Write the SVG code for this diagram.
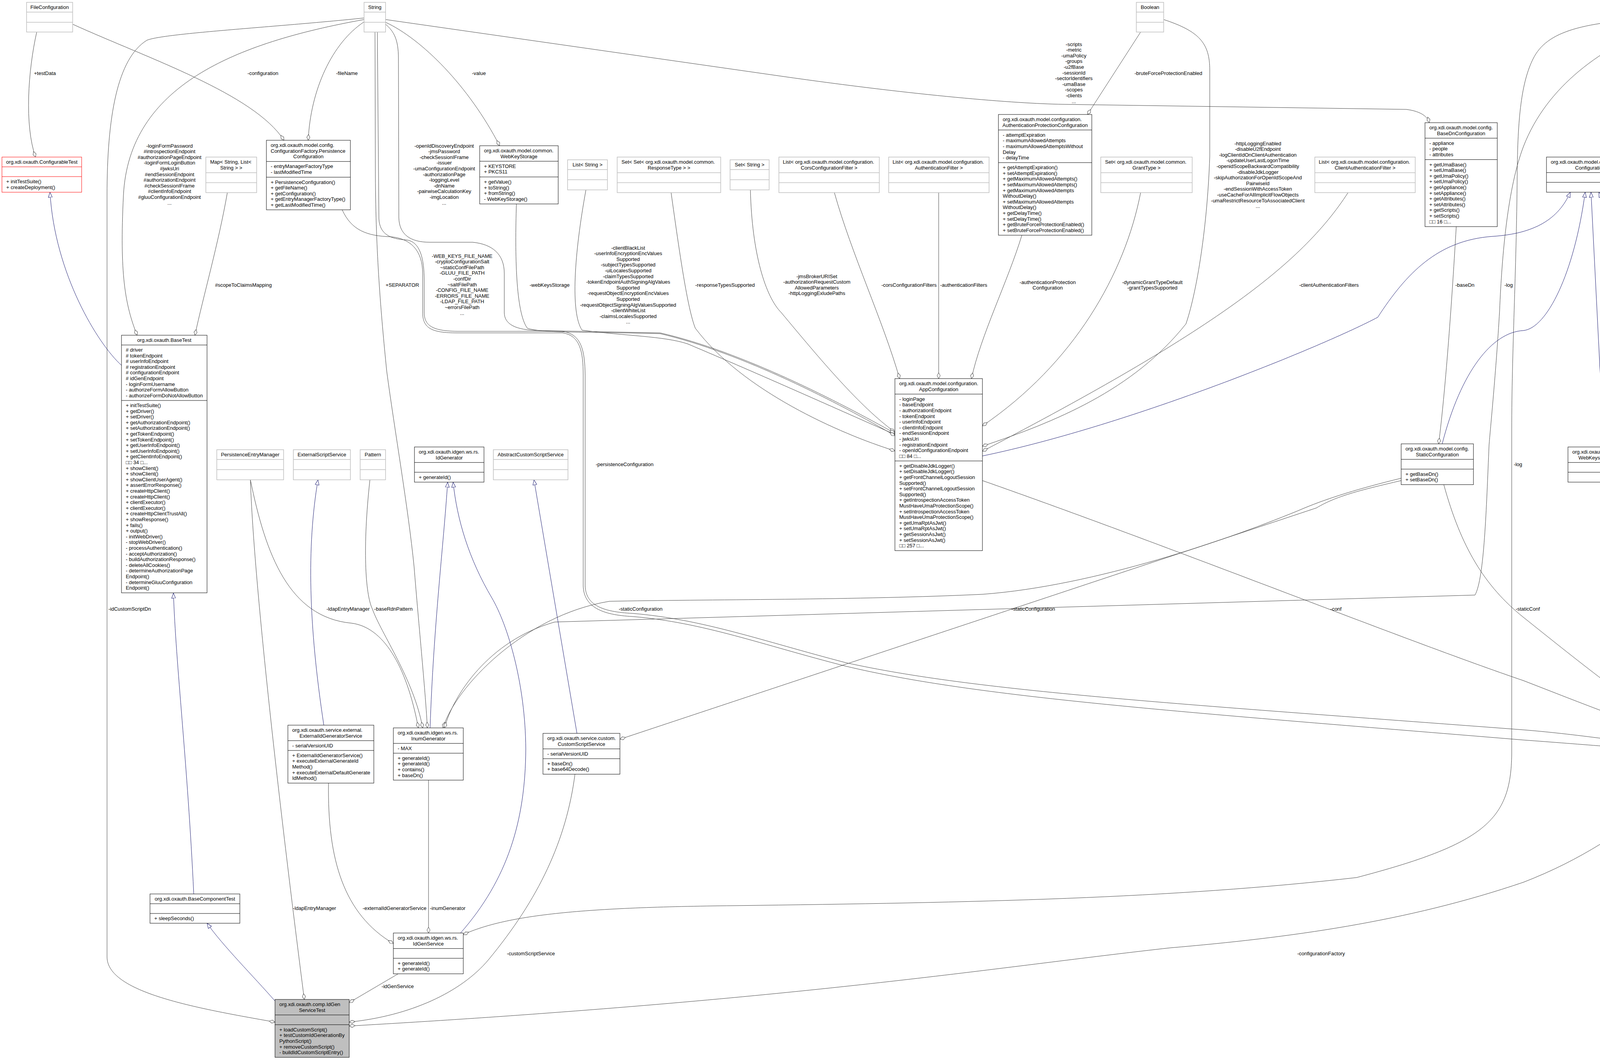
<svg xmlns="http://www.w3.org/2000/svg" width="5985" height="2713" viewBox="0 0 5985 2713">
<defs>
<style>
text{font-family:"Liberation Sans",Arial,Helvetica,"DejaVu Sans",sans-serif;font-size:13px;fill:#000}
.m{text-anchor:middle}
.b{fill:#fff;stroke:#000;stroke-width:1}
.x{fill:#fff;stroke:#bfbfbf;stroke-width:1.5}
.r{fill:#fff;stroke:#f00;stroke-width:1}
.g{fill:#bfbfbf;stroke:#000;stroke-width:1}
.sb{stroke:#000;stroke-width:1;fill:none}
.sx{stroke:#bfbfbf;stroke-width:1.5;fill:none}
.sr{stroke:#f00;stroke-width:1;fill:none}
.e{fill:none;stroke:#404040;stroke-width:1;marker-end:url(#dia)}
.i{fill:none;stroke:#191970;stroke-width:1;marker-end:url(#tri)}
</style>
<marker id="dia" markerUnits="userSpaceOnUse" markerWidth="16" markerHeight="10" viewBox="0 0 16 10" refX="15.5" refY="5" orient="auto"><path d="M0.5,5 L8,1 L15.5,5 L8,9 Z" fill="#fff" stroke="#404040"/></marker>
<marker id="tri" markerUnits="userSpaceOnUse" markerWidth="14" markerHeight="12" viewBox="0 0 14 12" refX="13.5" refY="6" orient="auto"><path d="M0.5,1 L13.5,6 L0.5,11 Z" fill="#fff" stroke="#191970"/></marker>
</defs>
<rect x="0" y="0" width="5985" height="2713" fill="#fff"/>
<g id="edges">
<g id="e_testData"><path class="e" d="M94,82 C72,180 62,320 91,402"/><text class="m" x="115" y="191.5">+testData</text></g>
<g id="e_configuration"><path class="e" d="M186,62 C380,150 650,240 727,359"/><text class="m" x="673" y="191.5">-configuration</text></g>
<g id="e_fileName"><path class="e" d="M932,56 C850,110 795,230 789,359"/><text class="m" x="888" y="191.5">-fileName</text></g>
<g id="e_basetest_strings"><path class="e" d="M932,50 C600,110 330,220 316,500 C306,700 320,780 351,858"/><text class="m" x="434" y="377.5"><tspan x="434">-loginFormPassword</tspan><tspan x="434" dy="14.6">#introspectionEndpoint</tspan><tspan x="434" dy="14.6">#authorizationPageEndpoint</tspan><tspan x="434" dy="14.6">-loginFormLoginButton</tspan><tspan x="434" dy="14.6">#jwksUri</tspan><tspan x="434" dy="14.6">#endSessionEndpoint</tspan><tspan x="434" dy="14.6">#authorizationEndpoint</tspan><tspan x="434" dy="14.6">#checkSessionIFrame</tspan><tspan x="434" dy="14.6">#clientInfoEndpoint</tspan><tspan x="434" dy="14.6">#gluuConfigurationEndpoint</tspan><tspan x="434" dy="14.6">...</tspan></text></g>
<g id="e_idCustomScriptDn"><path class="e" d="M932,46 C700,70 420,85 376,103 C300,150 274,300 274,500 L274,2449 C274,2540 500,2580 704,2616"/><text class="m" x="332" y="1562.5">-idCustomScriptDn</text></g>
<g id="e_scopeToClaimsMapping"><path class="e" d="M582,493 C560,620 520,760 499,858"/><text class="m" x="623" y="733.5">#scopeToClaimsMapping</text></g>
<g id="e_value"><path class="e" d="M987,57 C1080,100 1200,220 1279,373"/><text class="m" x="1226" y="191.5">-value</text></g>
<g id="e_basedn_strings"><path class="e" d="M987,50 L2000,195 C2350,245 2600,265 2720,267 L3600,280 C3640,285 3655,300 3659,314"/><text class="m" x="2749" y="117.5"><tspan x="2749">-scripts</tspan><tspan x="2749" dy="14.6">-metric</tspan><tspan x="2749" dy="14.6">-umaPolicy</tspan><tspan x="2749" dy="14.6">-groups</tspan><tspan x="2749" dy="14.6">-u2fBase</tspan><tspan x="2749" dy="14.6">-sessionId</tspan><tspan x="2749" dy="14.6">-sectorIdentifiers</tspan><tspan x="2749" dy="14.6">-umaBase</tspan><tspan x="2749" dy="14.6">-scopes</tspan><tspan x="2749" dy="14.6">-clients</tspan><tspan x="2749" dy="14.6">...</tspan></text></g>
<g id="e_bruteForce"><path class="e" d="M2920,82 L2784,293"/><text class="m" x="2991" y="191.5">-bruteForceProtectionEnabled</text></g>
<g id="e_boolean_appconf"><path class="e" d="M2979,50 C3070,80 3097,110 3097,180 L3097,400 C3090,600 3060,760 3036,829 C2900,1000 2700,1080 2515,1142"/><text class="m" x="3220" y="371.5"><tspan x="3220">-httpLoggingEnabled</tspan><tspan x="3220" dy="14.6">-disableU2fEndpoint</tspan><tspan x="3220" dy="14.6">-logClientIdOnClientAuthentication</tspan><tspan x="3220" dy="14.6">-updateUserLastLogonTime</tspan><tspan x="3220" dy="14.6">-openidScopeBackwardCompatibility</tspan><tspan x="3220" dy="14.6">-disableJdkLogger</tspan><tspan x="3220" dy="14.6">-skipAuthorizationForOpenIdScopeAnd</tspan><tspan x="3220" dy="14.6">PairwiseId</tspan><tspan x="3220" dy="14.6">-endSessionWithAccessToken</tspan><tspan x="3220" dy="14.6">-useCacheForAllImplicitFlowObjects</tspan><tspan x="3220" dy="14.6">-umaRestrictResourceToAssociatedClient</tspan><tspan x="3220" dy="14.6">...</tspan></text></g>
<g id="e_authProt"><path class="e" d="M2616,602 C2580,720 2510,860 2487,969"/><text class="m" x="2682" y="726.5"><tspan x="2682">-authenticationProtection</tspan><tspan x="2682" dy="14.6">Configuration</tspan></text></g>
<g id="e_grantTypes"><path class="e" d="M2920,493 C2880,700 2750,930 2515,1090"/><text class="m" x="2950" y="726.5"><tspan x="2950">-dynamicGrantTypeDefault</tspan><tspan x="2950" dy="14.6">-grantTypesSupported</tspan></text></g>
<g id="e_clientAuthFilters"><path class="e" d="M3451,493 C3330,680 3100,850 2515,1155"/><text class="m" x="3402" y="733.5">-clientAuthenticationFilters</text></g>
<g id="e_authFilters"><path class="e" d="M2403,493 L2403,969"/><text class="m" x="2467" y="733.5">-authenticationFilters</text></g>
<g id="e_corsFilters"><path class="e" d="M2136,493 C2180,650 2260,820 2303,969"/><text class="m" x="2327" y="733.5">-corsConfigurationFilters</text></g>
<g id="e_jms"><path class="e" d="M1921,486 C1925,650 1960,760 2000,800 C2100,920 2200,1040 2291,1106"/><text class="m" x="2091" y="711.5"><tspan x="2091">-jmsBrokerURISet</tspan><tspan x="2091" dy="14.6">-authorizationRequestCustom</tspan><tspan x="2091" dy="14.6">AllowedParameters</tspan><tspan x="2091" dy="14.6">-httpLoggingExludePaths</tspan></text></g>
<g id="e_responseTypes"><path class="e" d="M1718,493 C1740,650 1760,790 1780,840 C1900,1000 2150,1110 2291,1154"/><text class="m" x="1856" y="733.5">-responseTypesSupported</text></g>
<g id="e_liststring_appconf"><path class="e" d="M1500,486 C1470,650 1460,800 1490,845 C1600,860 1700,860 1760,880 C1950,960 2150,1050 2291,1112"/><text class="m" x="1608" y="638.5"><tspan x="1608">-clientBlackList</tspan><tspan x="1608" dy="14.6">-userInfoEncryptionEncValues</tspan><tspan x="1608" dy="14.6">Supported</tspan><tspan x="1608" dy="14.6">-subjectTypesSupported</tspan><tspan x="1608" dy="14.6">-uiLocalesSupported</tspan><tspan x="1608" dy="14.6">-claimTypesSupported</tspan><tspan x="1608" dy="14.6">-tokenEndpointAuthSigningAlgValues</tspan><tspan x="1608" dy="14.6">Supported</tspan><tspan x="1608" dy="14.6">-requestObjectEncryptionEncValues</tspan><tspan x="1608" dy="14.6">Supported</tspan><tspan x="1608" dy="14.6">-requestObjectSigningAlgValuesSupported</tspan><tspan x="1608" dy="14.6">-clientWhiteList</tspan><tspan x="1608" dy="14.6">-claimsLocalesSupported</tspan><tspan x="1608" dy="14.6">...</tspan></text></g>
<g id="e_string_appconf"><path class="e" d="M987,62 C1008,80 1020,100 1020,150 L1021,557 C1022,600 1050,620 1100,620 L1210,620 C1260,625 1291,650 1291,700 L1291,800 C1291,830 1320,845 1380,846 L1690,852 C1900,900 2150,1030 2291,1109"/><text class="m" x="1137" y="377.5"><tspan x="1137">-openIdDiscoveryEndpoint</tspan><tspan x="1137" dy="14.6">-jmsPassword</tspan><tspan x="1137" dy="14.6">-checkSessionIFrame</tspan><tspan x="1137" dy="14.6">-issuer</tspan><tspan x="1137" dy="14.6">-umaConfigurationEndpoint</tspan><tspan x="1137" dy="14.6">-authorizationPage</tspan><tspan x="1137" dy="14.6">-loggingLevel</tspan><tspan x="1137" dy="14.6">-dnName</tspan><tspan x="1137" dy="14.6">-pairwiseCalculationKey</tspan><tspan x="1137" dy="14.6">-imgLocation</tspan><tspan x="1137" dy="14.6">...</tspan></text></g>
<g id="e_webKeysStorage"><path class="e" d="M1322,522 C1318,650 1320,800 1350,840 C1380,850 1450,850 1550,851 L1690,854 C1900,903 2150,1033 2291,1115"/><text class="m" x="1407" y="733.5">-webKeysStorage</text></g>
<g id="e_string_cf"><path class="e" d="M966,82 L970,560 C972,600 1000,612 1040,614 C1075,618 1086,660 1086,720 L1086,800 C1086,835 1110,847 1170,848 L1440,848 C1490,855 1497,900 1498,960 L1498,1500 C1500,1548 1540,1566 1620,1570 C1800,1585 1950,1640 2165,1696 C2500,1770 3000,1800 3900,1868 C4050,1880 4200,1905 4285,1913"/><text class="m" x="1183" y="659.5"><tspan x="1183">-WEB_KEYS_FILE_NAME</tspan><tspan x="1183" dy="14.6">-cryptoConfigurationSalt</tspan><tspan x="1183" dy="14.6">~staticConfFilePath</tspan><tspan x="1183" dy="14.6">-GLUU_FILE_PATH</tspan><tspan x="1183" dy="14.6">-confDir</tspan><tspan x="1183" dy="14.6">~saltFilePath</tspan><tspan x="1183" dy="14.6">-CONFIG_FILE_NAME</tspan><tspan x="1183" dy="14.6">-ERRORS_FILE_NAME</tspan><tspan x="1183" dy="14.6">-LDAP_FILE_PATH</tspan><tspan x="1183" dy="14.6">~errorsFilePath</tspan><tspan x="1183" dy="14.6">...</tspan></text></g>
<g id="e_persistenceConfiguration"><path class="e" d="M876,537 C900,590 940,604 1000,606 C1050,610 1082,640 1082,700 L1082,800 C1082,840 1105,852 1170,852 L1440,852 C1485,858 1493,900 1493,960 L1493,1500 C1495,1553 1540,1574 1620,1578 C1800,1593 1950,1650 2165,1705 C2500,1785 3000,1820 3900,1894 C4050,1905 4200,1918 4285,1922"/><text class="m" x="1599" y="1192.5">-persistenceConfiguration</text></g>
<g id="e_conf"><path class="e" d="M2515,1230 C3000,1400 3600,1640 3900,1742 C4050,1800 4200,1860 4285,1883"/><text class="m" x="3420" y="1562.5">-conf</text></g>
<g id="e_staticConf"><path class="e" d="M3696,1240 C3740,1400 3800,1500 3900,1580 C4050,1700 4200,1820 4285,1862"/><text class="m" x="3911" y="1562.5">-staticConf</text></g>
<g id="e_static_css"><path class="e" d="M3587,1230 C3480,1255 3420,1270 3370,1300 L1587,1892"/><text class="m" x="2645" y="1562.5">-staticConfiguration</text></g>
<g id="e_static_inum"><path class="e" d="M3587,1224 C3480,1250 3400,1275 3340,1300 C3150,1380 2800,1500 2516,1521 C2200,1536 1800,1534 1560,1539 C1340,1575 1165,1760 1134,1863"/><text class="m" x="1640" y="1562.5">-staticConfiguration</text></g>
<g id="e_log_inum"><path class="e" d="M4262,58 C4100,120 3960,220 3900,375 C3860,480 3845,650 3839,795 C3830,950 3815,1100 3812,1139 C3805,1300 3800,1480 3776,1523 L1420,1592 C1250,1640 1160,1780 1138,1863"/><text class="m" x="3862" y="733.5">-log</text></g>
<g id="e_log_idgen"><path class="e" d="M4262,46 C4050,55 3960,80 3925,150 C3895,210 3885,300 3884,450 C3882,700 3870,900 3870,1100 L3870,1930 C3868,2100 3800,2160 3473,2246 C3000,2300 2500,2310 1878,2318 C1500,2322 1300,2340 1186,2392"/><text class="m" x="3886" y="1192.5">-log</text></g>
<g id="e_LOG"><path class="e" d="M4292,82 L4292,351"/><text class="m" x="4312" y="190.5">-LOG</text></g>
<g id="e_log_cf"><path class="e" d="M4323,70 C4400,200 4412,268 4410,400 C4405,625 4350,700 4299,759 C4250,850 4232,1000 4232,1071 L4243,1400 C4250,1500 4270,1560 4290,1599"/><text class="m" x="4396" y="733.5">-log</text></g>
<g id="e_log_erf"><path class="e" d="M4323,54 C4500,130 4600,250 4671,402 C4675,600 4660,750 4631,777 C4560,830 4480,930 4459,973 C4445,1000 4440,1030 4439,1056"/><text class="m" x="4688" y="450.5">-log</text></g>
<g id="e_messages"><path class="e" d="M4518,565 C4500,800 4450,950 4429,1056"/><text class="m" x="4538" y="733.5">-messages</text></g>
<g id="e_baseDn"><path class="e" d="M3728,580 C3715,800 3700,1000 3683,1136"/><text class="m" x="3750" y="733.5">-baseDn</text></g>
<g id="e_jwks"><path class="e" d="M4113,1234 C4120,1500 4200,1680 4285,1757"/><text class="m" x="4204" y="1562.5">-jwks</text></g>
<g id="e_errorResponseFactory"><path class="e" d="M4400,1321 L4400,1599"/><text class="m" x="4470" y="1562.5">-errorResponseFactory</text></g>
<g id="e_timerEvent"><path class="e" d="M4621,1228 C4605,1380 4570,1500 4545,1560 C4530,1600 4520,1625 4515,1648"/><text class="m" x="4585" y="1562.5">-timerEvent</text></g>
<g id="e_configurationUpdateEvent"><path class="e" d="M4849,1235 C4790,1430 4720,1500 4675,1560 C4600,1660 4550,1720 4515,1783"/><text class="m" x="4761" y="1562.5">-configurationUpdateEvent</text></g>
<g id="e_pemfInstance"><path class="e" d="M5099,1235 C5085,1380 5040,1480 4973,1557 C4900,1640 4750,1760 4515,1876"/><text class="m" x="5052" y="1556.5"><tspan x="5052">-persistenceEntryManager</tspan><tspan x="5052" dy="14.6">FactoryInstance</tspan></text></g>
<g id="e_configurationInstance"><path class="e" d="M5357,1235 C5330,1380 5250,1470 5163,1557 C5080,1640 4900,1780 4515,1896"/><text class="m" x="5239" y="1562.5">-configurationInstance</text></g>
<g id="e_pemInstance"><path class="e" d="M5616,1235 C5605,1380 5540,1490 5470,1557 C5380,1640 5200,1780 4515,1904"/><text class="m" x="5548" y="1556.5"><tspan x="5548">-persistenceEntryManager</tspan><tspan x="5548" dy="14.6">Instance</tspan></text></g>
<g id="e_event"><path class="e" d="M5788,1228 C5788,1400 5760,1500 5700,1540 C5640,1575 5500,1610 5258,1691 C5000,1780 4700,1870 4515,1911"/><text class="m" x="5717" y="1562.5">-event</text></g>
<g id="e_isActive"><path class="e" d="M5924,1228 C5922,1400 5880,1470 5826,1512 C5750,1570 5600,1640 5258,1758 C5000,1840 4700,1895 4515,1918"/><text class="m" x="5854" y="1562.5">-isActive</text></g>
<g id="e_ldap_test"><path class="e" d="M641,1228 C650,1500 720,2100 779,2558"/><text class="m" x="805" y="2328.5">-ldapEntryManager</text></g>
<g id="e_ldap_inum"><path class="e" d="M641,1228 C680,1420 740,1580 900,1595 C980,1605 1040,1700 1071,1863"/><text class="m" x="891" y="1562.5">-ldapEntryManager</text></g>
<g id="e_baseRdnPattern"><path class="e" d="M947,1228 C928,1400 935,1520 953,1558 C975,1620 1060,1740 1082,1863"/><text class="m" x="1007" y="1562.5">-baseRdnPattern</text></g>
<g id="e_separator"><path class="e" d="M960,82 L961,450 C962,650 975,800 990,950 C1010,1100 1045,1300 1060,1450 C1072,1600 1090,1780 1094,1863"/><text class="m" x="1030" y="733.5">+SEPARATOR</text></g>
<g id="e_inumGenerator"><path class="e" d="M1097,1997 L1097,2388"/><text class="m" x="1146" y="2328.5">-inumGenerator</text></g>
<g id="e_externalIdGen"><path class="e" d="M841,2004 C838,2200 880,2340 1007,2415"/><text class="m" x="1010" y="2328.5">-externalIdGeneratorService</text></g>
<g id="e_idGenService"><path class="e" d="M1020,2492 L894,2566"/><text class="m" x="1018" y="2528.5">-idGenService</text></g>
<g id="e_customScriptService"><path class="e" d="M1472,1981 C1450,2150 1380,2300 1250,2457 C1180,2540 1050,2600 894,2616"/><text class="m" x="1359" y="2444.5">-customScriptService</text></g>
<g id="e_configurationFactory"><path class="e" d="M4285,2030 C4150,2130 4050,2200 3900,2258 C3600,2360 3300,2400 2995,2426 C2600,2470 2200,2534 1400,2593 C1200,2608 1000,2620 894,2626"/><text class="m" x="3382" y="2444.5">-configurationFactory</text></g>
<path id="i_basetest_configurable" class="i" d="M311,935 C250,880 140,700 128,492"/>
<path id="i_basecomp_basetest" class="i" d="M496,2288 C480,1950 450,1700 444,1518"/>
<path id="i_test_basecomp" class="i" d="M704,2562 C650,2500 570,2420 530,2363"/>
<path id="i_extidgen_extscript" class="i" d="M829,1856 C790,1600 785,1400 814,1228"/>
<path id="i_inum_idgen" class="i" d="M1101,1863 C1110,1600 1135,1400 1146,1234"/>
<path id="i_idgenservice_idgen" class="i" d="M1179,2388 C1300,2250 1345,2100 1346,1917 C1345,1750 1300,1600 1259,1530 C1200,1430 1170,1330 1160,1234"/>
<path id="i_css_acss" class="i" d="M1477,1877 L1367,1228"/>
<path id="i_appconf_conf" class="i" d="M2515,1167 C2900,1087 3400,880 3527,812 C3600,700 3680,615 3821,605 C3930,598 3990,560 4020,492"/>
<path id="i_static_conf" class="i" d="M3692,1136 C3740,950 3820,850 3900,846 C3960,840 4030,700 4058,492"/>
<path id="i_webkeys_conf" class="i" d="M4106,1144 L4073,492"/>
<path id="i_erf_conf" class="i" d="M4339,1056 L4093,492"/>
<path id="i_webkeys_jwks" class="i" d="M4119,1144 L4266,543"/>
</g>
<g id="nodes">
<g id="n_FileConfiguration"><rect class="x" x="68" y="6" width="118" height="76"/><path class="sx" d="M68,31H186M68,57H186"/><text class="m" x="127" y="23">FileConfiguration</text></g>
<g id="n_String"><rect class="x" x="932" y="6" width="55" height="76"/><path class="sx" d="M932,31H987M932,57H987"/><text class="m" x="959.5" y="23">String</text></g>
<g id="n_Boolean"><rect class="x" x="2909" y="6" width="70" height="76"/><path class="sx" d="M2909,31H2979M2909,57H2979"/><text class="m" x="2944" y="23">Boolean</text></g>
<g id="n_Logger"><rect class="x" x="4262" y="6" width="61" height="76"/><path class="sx" d="M4262,31H4323M4262,57H4323"/><text class="m" x="4292.5" y="23">Logger</text></g>
<g id="n_ConfigurableTest"><rect class="r" x="5" y="402" width="204" height="90"/><path class="sr" d="M5,427H209M5,452H209"/><text class="m" x="107" y="419">org.xdi.oxauth.ConfigurableTest</text><text x="16" y="469"><tspan x="16">+ initTestSuite()</tspan><tspan x="16" dy="14.6">+ createDeployment()</tspan></text></g>
<g id="n_PersistenceConfiguration"><rect class="b" x="682" y="359" width="215" height="178"/><path class="sb" d="M682,413.3H897M682,453.5H897"/><text x="693" y="376"><tspan x="693">org.xdi.oxauth.model.config.</tspan><tspan x="693" dy="14.6">ConfigurationFactory.Persistence</tspan></text><text class="m" x="789.5" y="405.2">Configuration</text><text x="693" y="430.3"><tspan x="693">- entryManagerFactoryType</tspan><tspan x="693" dy="14.6">- lastModifiedTime</tspan></text><text x="693" y="470.5"><tspan x="693">+ PersistenceConfiguration()</tspan><tspan x="693" dy="14.6">+ getFileName()</tspan><tspan x="693" dy="14.6">+ getConfiguration()</tspan><tspan x="693" dy="14.6">+ getEntryManagerFactoryType()</tspan><tspan x="693" dy="14.6">+ getLastModifiedTime()</tspan></text></g>
<g id="n_MapStringList"><rect class="x" x="527" y="402" width="130" height="91"/><path class="sx" d="M527,442H657M527,467.5H657"/><text x="538" y="419">Map&lt; String, List&lt;</text><text class="m" x="592" y="433.6">String &gt; &gt;</text></g>
<g id="n_WebKeyStorage"><rect class="b" x="1228" y="373" width="201" height="149"/><path class="sb" d="M1228,412.7H1429M1228,452.9H1429"/><text x="1239" y="390">org.xdi.oxauth.model.common.</text><text class="m" x="1328.5" y="404.6">WebKeyStorage</text><text x="1239" y="429.7"><tspan x="1239">+ KEYSTORE</tspan><tspan x="1239" dy="14.6">+ PKCS11</tspan></text><text x="1239" y="469.9"><tspan x="1239">+ getValue()</tspan><tspan x="1239" dy="14.6">+ toString()</tspan><tspan x="1239" dy="14.6">+ fromString()</tspan><tspan x="1239" dy="14.6">- WebKeyStorage()</tspan></text></g>
<g id="n_ListString"><rect class="x" x="1453" y="409" width="102" height="77"/><path class="sx" d="M1453,434H1555M1453,460H1555"/><text class="m" x="1504" y="426">List&lt; String &gt;</text></g>
<g id="n_SetSetResponseType"><rect class="x" x="1580" y="402" width="265" height="91"/><path class="sx" d="M1580,442H1845M1580,467.5H1845"/><text x="1591" y="419">Set&lt; Set&lt; org.xdi.oxauth.model.common.</text><text class="m" x="1712.5" y="433.6">ResponseType &gt; &gt;</text></g>
<g id="n_SetString"><rect class="x" x="1869" y="409" width="100" height="77"/><path class="sx" d="M1869,434H1969M1869,460H1969"/><text class="m" x="1919" y="426">Set&lt; String &gt;</text></g>
<g id="n_ListCors"><rect class="x" x="1994" y="402" width="257" height="91"/><path class="sx" d="M1994,442H2251M1994,467.5H2251"/><text x="2004" y="419">List&lt; org.xdi.oxauth.model.configuration.</text><text class="m" x="2122.5" y="433.6">CorsConfigurationFilter &gt;</text></g>
<g id="n_ListAuthFilter"><rect class="x" x="2275" y="402" width="257" height="91"/><path class="sx" d="M2275,442H2532M2275,467.5H2532"/><text x="2285" y="419">List&lt; org.xdi.oxauth.model.configuration.</text><text class="m" x="2403.5" y="433.6">AuthenticationFilter &gt;</text></g>
<g id="n_AuthenticationProtectionConfiguration"><rect class="b" x="2556" y="293" width="239" height="309"/><path class="sb" d="M2556,332.7H2795M2556,416.2H2795"/><text x="2567" y="310">org.xdi.oxauth.model.configuration.</text><text class="m" x="2675.5" y="324.6">AuthenticationProtectionConfiguration</text><text x="2567" y="349.7"><tspan x="2567">- attemptExpiration</tspan><tspan x="2567" dy="14.6">- maximumAllowedAttempts</tspan><tspan x="2567" dy="14.6">- maximumAllowedAttemptsWithout</tspan><tspan x="2567" dy="14.6">Delay</tspan><tspan x="2567" dy="14.6">- delayTime</tspan></text><text x="2567" y="433.2"><tspan x="2567">+ getAttemptExpiration()</tspan><tspan x="2567" dy="14.6">+ setAttemptExpiration()</tspan><tspan x="2567" dy="14.6">+ getMaximumAllowedAttempts()</tspan><tspan x="2567" dy="14.6">+ setMaximumAllowedAttempts()</tspan><tspan x="2567" dy="14.6">+ getMaximumAllowedAttempts</tspan><tspan x="2567" dy="14.6">WithoutDelay()</tspan><tspan x="2567" dy="14.6">+ setMaximumAllowedAttempts</tspan><tspan x="2567" dy="14.6">WithoutDelay()</tspan><tspan x="2567" dy="14.6">+ getDelayTime()</tspan><tspan x="2567" dy="14.6">+ setDelayTime()</tspan><tspan x="2567" dy="14.6">+ getBruteForceProtectionEnabled()</tspan><tspan x="2567" dy="14.6">+ setBruteForceProtectionEnabled()</tspan></text></g>
<g id="n_SetGrantType"><rect class="x" x="2818" y="402" width="234" height="91"/><path class="sx" d="M2818,442H3052M2818,467.5H3052"/><text x="2829" y="419">Set&lt; org.xdi.oxauth.model.common.</text><text class="m" x="2935" y="433.6">GrantType &gt;</text></g>
<g id="n_ListClientAuthFilter"><rect class="x" x="3366" y="402" width="257" height="91"/><path class="sx" d="M3366,442H3623M3366,467.5H3623"/><text x="3376" y="419">List&lt; org.xdi.oxauth.model.configuration.</text><text class="m" x="3494.5" y="433.6">ClientAuthenticationFilter &gt;</text></g>
<g id="n_BaseDnConfiguration"><rect class="b" x="3648" y="314" width="185" height="266"/><path class="sb" d="M3648,353.7H3833M3648,408.5H3833"/><text x="3659" y="331">org.xdi.oxauth.model.config.</text><text class="m" x="3740.5" y="345.6">BaseDnConfiguration</text><text x="3659" y="370.7"><tspan x="3659">- appliance</tspan><tspan x="3659" dy="14.6">- people</tspan><tspan x="3659" dy="14.6">- attributes</tspan></text><text x="3659" y="425.5"><tspan x="3659">+ getUmaBase()</tspan><tspan x="3659" dy="14.6">+ setUmaBase()</tspan><tspan x="3659" dy="14.6">+ getUmaPolicy()</tspan><tspan x="3659" dy="14.6">+ setUmaPolicy()</tspan><tspan x="3659" dy="14.6">+ getAppliance()</tspan><tspan x="3659" dy="14.6">+ setAppliance()</tspan><tspan x="3659" dy="14.6">+ getAttributes()</tspan><tspan x="3659" dy="14.6">+ setAttributes()</tspan><tspan x="3659" dy="14.6">+ getScripts()</tspan><tspan x="3659" dy="14.6">+ setScripts()</tspan><tspan x="3659" dy="14.6">□□ 16 □...</tspan></text></g>
<g id="n_Configuration"><rect class="b" x="3959" y="402" width="224" height="90"/><path class="sb" d="M3959,441.7H4183M3959,466.7H4183"/><text x="3970" y="419">org.xdi.oxauth.model.configuration.</text><text class="m" x="4071" y="433.6">Configuration</text></g>
<g id="n_JSONWebKeySet"><rect class="r" x="4207" y="351" width="170" height="192"/><path class="sr" d="M4207,390.7H4377M4207,415.7H4377"/><text x="4218" y="368">org.xdi.oxauth.model.jwk.</text><text class="m" x="4292" y="382.6">JSONWebKeySet</text><text x="4218" y="432.7"><tspan x="4218">+ JSONWebKeySet()</tspan><tspan x="4218" dy="14.6">+ getKeys()</tspan><tspan x="4218" dy="14.6">+ setKeys()</tspan><tspan x="4218" dy="14.6">+ getKey()</tspan><tspan x="4218" dy="14.6">+ getKeys()</tspan><tspan x="4218" dy="14.6">+ toJSONObject()</tspan><tspan x="4218" dy="14.6">+ toString()</tspan><tspan x="4218" dy="14.6">+ fromJSONObject()</tspan></text></g>
<g id="n_ErrorMessages"><rect class="r" x="4453" y="329" width="177" height="236"/><path class="sr" d="M4453,368.7H4630M4453,393.7H4630"/><text x="4464" y="346">org.xdi.oxauth.model.error.</text><text class="m" x="4541.5" y="360.6">ErrorMessages</text><text x="4464" y="410.7"><tspan x="4464">+ getAuthorize()</tspan><tspan x="4464" dy="14.6">+ setAuthorize()</tspan><tspan x="4464" dy="14.6">+ getClientInfo()</tspan><tspan x="4464" dy="14.6">+ setClientInfo()</tspan><tspan x="4464" dy="14.6">+ getEndSession()</tspan><tspan x="4464" dy="14.6">+ setEndSession()</tspan><tspan x="4464" dy="14.6">+ getRegister()</tspan><tspan x="4464" dy="14.6">+ setRegister()</tspan><tspan x="4464" dy="14.6">+ getToken()</tspan><tspan x="4464" dy="14.6">+ setToken()</tspan><tspan x="4464" dy="14.6">□□ 6 □...</tspan></text></g>
<g id="n_BaseTest"><rect class="b" x="311" y="858" width="219" height="659.3"/><path class="sb" d="M311,883H530M311,1025H530"/><text class="m" x="420.5" y="875">org.xdi.oxauth.BaseTest</text><text x="322" y="900"><tspan x="322"># driver</tspan><tspan x="322" dy="14.6"># tokenEndpoint</tspan><tspan x="322" dy="14.6"># userInfoEndpoint</tspan><tspan x="322" dy="14.6"># registrationEndpoint</tspan><tspan x="322" dy="14.6"># configurationEndpoint</tspan><tspan x="322" dy="14.6"># idGenEndpoint</tspan><tspan x="322" dy="14.6">- loginFormUsername</tspan><tspan x="322" dy="14.6">- authorizeFormAllowButton</tspan><tspan x="322" dy="14.6">- authorizeFormDoNotAllowButton</tspan></text><text x="322" y="1042"><tspan x="322">+ initTestSuite()</tspan><tspan x="322" dy="14.6">+ getDriver()</tspan><tspan x="322" dy="14.6">+ setDriver()</tspan><tspan x="322" dy="14.6">+ getAuthorizationEndpoint()</tspan><tspan x="322" dy="14.6">+ setAuthorizationEndpoint()</tspan><tspan x="322" dy="14.6">+ getTokenEndpoint()</tspan><tspan x="322" dy="14.6">+ setTokenEndpoint()</tspan><tspan x="322" dy="14.6">+ getUserInfoEndpoint()</tspan><tspan x="322" dy="14.6">+ setUserInfoEndpoint()</tspan><tspan x="322" dy="14.6">+ getClientInfoEndpoint()</tspan><tspan x="322" dy="14.6">□□ 34 □...</tspan><tspan x="322" dy="14.6">+ showClient()</tspan><tspan x="322" dy="14.6">+ showClient()</tspan><tspan x="322" dy="14.6">+ showClientUserAgent()</tspan><tspan x="322" dy="14.6">+ assertErrorResponse()</tspan><tspan x="322" dy="14.6">+ createHttpClient()</tspan><tspan x="322" dy="14.6">+ createHttpClient()</tspan><tspan x="322" dy="14.6">+ clientExecutor()</tspan><tspan x="322" dy="14.6">+ clientExecutor()</tspan><tspan x="322" dy="14.6">+ createHttpClientTrustAll()</tspan><tspan x="322" dy="14.6">+ showResponse()</tspan><tspan x="322" dy="14.6">+ fails()</tspan><tspan x="322" dy="14.6">+ output()</tspan><tspan x="322" dy="14.6">- initWebDriver()</tspan><tspan x="322" dy="14.6">- stopWebDriver()</tspan><tspan x="322" dy="14.6">- processAuthentication()</tspan><tspan x="322" dy="14.6">- acceptAuthorization()</tspan><tspan x="322" dy="14.6">- buildAuthorizationResponse()</tspan><tspan x="322" dy="14.6">- deleteAllCookies()</tspan><tspan x="322" dy="14.6">- determineAuthorizationPage</tspan><tspan x="322" dy="14.6">Endpoint()</tspan><tspan x="322" dy="14.6">- determineGluuConfiguration</tspan><tspan x="322" dy="14.6">Endpoint()</tspan></text></g>
<g id="n_PersistenceEntryManager"><rect class="x" x="555" y="1151" width="171" height="77"/><path class="sx" d="M555,1176H726M555,1202H726"/><text class="m" x="640.5" y="1168">PersistenceEntryManager</text></g>
<g id="n_ExternalScriptService"><rect class="x" x="751" y="1151" width="146" height="77"/><path class="sx" d="M751,1176H897M751,1202H897"/><text class="m" x="824" y="1168">ExternalScriptService</text></g>
<g id="n_Pattern"><rect class="x" x="922" y="1151" width="65" height="77"/><path class="sx" d="M922,1176H987M922,1202H987"/><text class="m" x="954.5" y="1168">Pattern</text></g>
<g id="n_IdGenerator"><rect class="b" x="1061" y="1144" width="178" height="90"/><path class="sb" d="M1061,1183.7H1239M1061,1208.7H1239"/><text x="1072" y="1161">org.xdi.oxauth.idgen.ws.rs.</text><text class="m" x="1150" y="1175.6">IdGenerator</text><text x="1072" y="1225.7">+ generateId()</text></g>
<g id="n_AbstractCustomScriptService"><rect class="x" x="1263" y="1151" width="191" height="77"/><path class="sx" d="M1263,1176H1454M1263,1202H1454"/><text class="m" x="1358.5" y="1168">AbstractCustomScriptService</text></g>
<g id="n_AppConfiguration"><rect class="b" x="2291" y="969" width="224" height="440.3"/><path class="sb" d="M2291,1008.7H2515M2291,1179.8H2515"/><text x="2302" y="986">org.xdi.oxauth.model.configuration.</text><text class="m" x="2403" y="1000.6">AppConfiguration</text><text x="2302" y="1025.7"><tspan x="2302">- loginPage</tspan><tspan x="2302" dy="14.6">- baseEndpoint</tspan><tspan x="2302" dy="14.6">- authorizationEndpoint</tspan><tspan x="2302" dy="14.6">- tokenEndpoint</tspan><tspan x="2302" dy="14.6">- userInfoEndpoint</tspan><tspan x="2302" dy="14.6">- clientInfoEndpoint</tspan><tspan x="2302" dy="14.6">- endSessionEndpoint</tspan><tspan x="2302" dy="14.6">- jwksUri</tspan><tspan x="2302" dy="14.6">- registrationEndpoint</tspan><tspan x="2302" dy="14.6">- openIdConfigurationEndpoint</tspan><tspan x="2302" dy="14.6">□□ 84 □...</tspan></text><text x="2302" y="1196.8"><tspan x="2302">+ getDisableJdkLogger()</tspan><tspan x="2302" dy="14.6">+ setDisableJdkLogger()</tspan><tspan x="2302" dy="14.6">+ getFrontChannelLogoutSession</tspan><tspan x="2302" dy="14.6">Supported()</tspan><tspan x="2302" dy="14.6">+ setFrontChannelLogoutSession</tspan><tspan x="2302" dy="14.6">Supported()</tspan><tspan x="2302" dy="14.6">+ getIntrospectionAccessToken</tspan><tspan x="2302" dy="14.6">MustHaveUmaProtectionScope()</tspan><tspan x="2302" dy="14.6">+ setIntrospectionAccessToken</tspan><tspan x="2302" dy="14.6">MustHaveUmaProtectionScope()</tspan><tspan x="2302" dy="14.6">+ getUmaRptAsJwt()</tspan><tspan x="2302" dy="14.6">+ setUmaRptAsJwt()</tspan><tspan x="2302" dy="14.6">+ getSessionAsJwt()</tspan><tspan x="2302" dy="14.6">+ setSessionAsJwt()</tspan><tspan x="2302" dy="14.6">□□ 257 □...</tspan></text></g>
<g id="n_StaticConfiguration"><rect class="b" x="3587" y="1136" width="185" height="104.4"/><path class="sb" d="M3587,1175.7H3772M3587,1200.7H3772"/><text x="3598" y="1153">org.xdi.oxauth.model.config.</text><text class="m" x="3679.5" y="1167.6">StaticConfiguration</text><text x="3598" y="1217.7"><tspan x="3598">+ getBaseDn()</tspan><tspan x="3598" dy="14.6">+ setBaseDn()</tspan></text></g>
<g id="n_WebKeysConfiguration"><rect class="b" x="4014" y="1144" width="186" height="90"/><path class="sb" d="M4014,1183.7H4200M4014,1208.7H4200"/><text x="4025" y="1161">org.xdi.oxauth.model.config.</text><text class="m" x="4107" y="1175.6">WebKeysConfiguration</text></g>
<g id="n_ErrorResponseFactory"><rect class="b" x="4276" y="1056" width="249" height="265"/><path class="sb" d="M4276,1095.7H4525M4276,1120.7H4525"/><text x="4287" y="1073">org.xdi.oxauth.model.error.</text><text class="m" x="4400.5" y="1087.6">ErrorResponseFactory</text><text x="4287" y="1137.7"><tspan x="4287">+ ErrorResponseFactory()</tspan><tspan x="4287" dy="14.6">+ ErrorResponseFactory()</tspan><tspan x="4287" dy="14.6">+ getMessages()</tspan><tspan x="4287" dy="14.6">+ setMessages()</tspan><tspan x="4287" dy="14.6">+ getErrorAsJson()</tspan><tspan x="4287" dy="14.6">+ errorAsJson()</tspan><tspan x="4287" dy="14.6">+ throwUnauthorizedException()</tspan><tspan x="4287" dy="14.6">+ throwBadRequestException()</tspan><tspan x="4287" dy="14.6">+ throwWebApplicationException()</tspan><tspan x="4287" dy="14.6">+ throwUmaNotFoundException()</tspan><tspan x="4287" dy="14.6">□□ 3 □...</tspan><tspan x="4287" dy="14.6">~ throwUmaWebApplicationException()</tspan><tspan x="4287" dy="14.6">- getError()</tspan></text></g>
<g id="n_EventTimerEvent"><rect class="x" x="4549" y="1151" width="144" height="77"/><path class="sx" d="M4549,1176H4693M4549,1202H4693"/><text class="m" x="4621" y="1168">Event&lt; TimerEvent &gt;</text></g>
<g id="n_EventAppConfiguration"><rect class="x" x="4715" y="1144" width="269" height="91"/><path class="sx" d="M4715,1184H4984M4715,1209.5H4984"/><text x="4726" y="1161">Event&lt; org.xdi.oxauth.model.configuration.</text><text class="m" x="4849.5" y="1175.6">AppConfiguration &gt;</text></g>
<g id="n_InstancePEMF"><rect class="x" x="5008" y="1144" width="183" height="91"/><path class="sx" d="M5008,1184H5191M5008,1209.5H5191"/><text x="5019" y="1161">Instance&lt; PersistenceEntry</text><text class="m" x="5099.5" y="1175.6">ManagerFactory &gt;</text></g>
<g id="n_InstanceConfiguration"><rect class="x" x="5215" y="1144" width="285" height="91"/><path class="sx" d="M5215,1184H5500M5215,1209.5H5500"/><text x="5226" y="1161">Instance&lt; org.xdi.oxauth.model.configuration.</text><text class="m" x="5357.5" y="1175.6">Configuration &gt;</text></g>
<g id="n_InstancePEM"><rect class="x" x="5525" y="1144" width="183" height="91"/><path class="sx" d="M5525,1184H5708M5525,1209.5H5708"/><text x="5536" y="1161">Instance&lt; PersistenceEntry</text><text class="m" x="5616.5" y="1175.6">Manager &gt;</text></g>
<g id="n_EventString"><rect class="x" x="5732" y="1151" width="112" height="77"/><path class="sx" d="M5732,1176H5844M5732,1202H5844"/><text class="m" x="5788" y="1168">Event&lt; String &gt;</text></g>
<g id="n_AtomicBoolean"><rect class="x" x="5869" y="1151" width="111" height="77"/><path class="sx" d="M5869,1176H5980M5869,1202H5980"/><text class="m" x="5924.5" y="1168">AtomicBoolean</text></g>
<g id="n_ConfigurationFactory"><rect class="b" x="4285" y="1599" width="230" height="659.3"/><path class="sb" d="M4285,1638.7H4515M4285,1839H4515"/><text x="4296" y="1616">org.xdi.oxauth.model.config.</text><text class="m" x="4400" y="1630.6">ConfigurationFactory</text><text x="4296" y="1655.7"><tspan x="4296">+ PERSISTENCE_CONFIGUARION</tspan><tspan x="4296" dy="14.6">_RELOAD_EVENT_TYPE</tspan><tspan x="4296" dy="14.6">+ LDAP_DEFAULT_FILE_PATH</tspan><tspan x="4296" dy="14.6">~ configFilePath</tspan><tspan x="4296" dy="14.6">~ webKeysFilePath</tspan><tspan x="4296" dy="14.6">- STATIC_CONF_FILE_NAME</tspan><tspan x="4296" dy="14.6">- SALT_FILE_NAME</tspan><tspan x="4296" dy="14.6">- loaded</tspan><tspan x="4296" dy="14.6">- loadedRevision</tspan><tspan x="4296" dy="14.6">- loadedFromLdap</tspan><tspan x="4296" dy="14.6">- DEFAULT_INTERVAL</tspan><tspan x="4296" dy="14.6">- BASE_DIR</tspan><tspan x="4296" dy="14.6">- DIR</tspan></text><text x="4296" y="1856"><tspan x="4296">+ init()</tspan><tspan x="4296" dy="14.6">+ create()</tspan><tspan x="4296" dy="14.6">+ initTimer()</tspan><tspan x="4296" dy="14.6">+ reloadConfigurationTimer</tspan><tspan x="4296" dy="14.6">Event()</tspan><tspan x="4296" dy="14.6">+ getPersistenceConfiguration()</tspan><tspan x="4296" dy="14.6">+ getAppConfiguration()</tspan><tspan x="4296" dy="14.6">+ getStaticConfiguration()</tspan><tspan x="4296" dy="14.6">+ getWebKeysConfiguration()</tspan><tspan x="4296" dy="14.6">+ getErrorResponseFactory()</tspan><tspan x="4296" dy="14.6">+ getBaseDn()</tspan><tspan x="4296" dy="14.6">+ getCryptoConfigurationSalt()</tspan><tspan x="4296" dy="14.6">+ destroy()</tspan><tspan x="4296" dy="14.6">+ initJwksFromString()</tspan><tspan x="4296" dy="14.6">+ loadCryptoConfigurationSalt()</tspan><tspan x="4296" dy="14.6">~ [static initializer]()</tspan><tspan x="4296" dy="14.6"># loadPersistenceConfiguration()</tspan><tspan x="4296" dy="14.6">- reloadConfiguration()</tspan><tspan x="4296" dy="14.6">- confDir()</tspan><tspan x="4296" dy="14.6">- createFromFile()</tspan><tspan x="4296" dy="14.6">- reloadWebkeyFromFile()</tspan><tspan x="4296" dy="14.6">- reloadStaticConfFromFile()</tspan><tspan x="4296" dy="14.6">- reloadErrorsFromFile()</tspan><tspan x="4296" dy="14.6">- reloadConfFromFile()</tspan><tspan x="4296" dy="14.6">- createFromLdap()</tspan><tspan x="4296" dy="14.6">- loadConfigurationFromLdap()</tspan><tspan x="4296" dy="14.6">- init()</tspan><tspan x="4296" dy="14.6">□□ 14 □...</tspan></text></g>
<g id="n_ExternalIdGeneratorService"><rect class="b" x="737" y="1856" width="220" height="148.3"/><path class="sb" d="M737,1895.7H957M737,1920.8H957"/><text x="748" y="1873">org.xdi.oxauth.service.external.</text><text class="m" x="847" y="1887.6">ExternalIdGeneratorService</text><text x="748" y="1912.7">- serialVersionUID</text><text x="748" y="1937.8"><tspan x="748">+ ExternalIdGeneratorService()</tspan><tspan x="748" dy="14.6">+ executeExternalGenerateId</tspan><tspan x="748" dy="14.6">Method()</tspan><tspan x="748" dy="14.6">+ executeExternalDefaultGenerate</tspan><tspan x="748" dy="14.6">IdMethod()</tspan></text></g>
<g id="n_InumGenerator"><rect class="b" x="1007" y="1863" width="179" height="133.7"/><path class="sb" d="M1007,1902.7H1186M1007,1927.8H1186"/><text x="1018" y="1880">org.xdi.oxauth.idgen.ws.rs.</text><text class="m" x="1096.5" y="1894.6">InumGenerator</text><text x="1018" y="1919.7">- MAX</text><text x="1018" y="1944.8"><tspan x="1018">+ generateId()</tspan><tspan x="1018" dy="14.6">+ generateId()</tspan><tspan x="1018" dy="14.6">+ contains()</tspan><tspan x="1018" dy="14.6">+ baseDn()</tspan></text></g>
<g id="n_CustomScriptService"><rect class="b" x="1390" y="1877" width="197" height="104.5"/><path class="sb" d="M1390,1916.7H1587M1390,1941.8H1587"/><text x="1401" y="1894">org.xdi.oxauth.service.custom.</text><text class="m" x="1488.5" y="1908.6">CustomScriptService</text><text x="1401" y="1933.7">- serialVersionUID</text><text x="1401" y="1958.8"><tspan x="1401">+ baseDn()</tspan><tspan x="1401" dy="14.6">+ base64Decode()</tspan></text></g>
<g id="n_BaseComponentTest"><rect class="b" x="384" y="2288" width="230" height="75"/><path class="sb" d="M384,2313H614M384,2338H614"/><text class="m" x="499" y="2305">org.xdi.oxauth.BaseComponentTest</text><text x="395" y="2355">+ sleepSeconds()</text></g>
<g id="n_IdGenService"><rect class="b" x="1007" y="2388" width="179" height="104.4"/><path class="sb" d="M1007,2427.7H1186M1007,2452.7H1186"/><text x="1018" y="2405">org.xdi.oxauth.idgen.ws.rs.</text><text class="m" x="1096.5" y="2419.6">IdGenService</text><text x="1018" y="2469.7"><tspan x="1018">+ generateId()</tspan><tspan x="1018" dy="14.6">+ generateId()</tspan></text></g>
<g id="n_IdGenServiceTest"><rect class="g" x="704" y="2558" width="190" height="148.2"/><path class="sb" d="M704,2597.7H894M704,2622.7H894"/><text x="715" y="2575">org.xdi.oxauth.comp.IdGen</text><text class="m" x="799" y="2589.6">ServiceTest</text><text x="715" y="2639.7"><tspan x="715">+ loadCustomScript()</tspan><tspan x="715" dy="14.6">+ testCustomIdGenerationBy</tspan><tspan x="715" dy="14.6">PythonScript()</tspan><tspan x="715" dy="14.6">+ removeCustomScript()</tspan><tspan x="715" dy="14.6">- buildIdCustomScriptEntry()</tspan></text></g>
</g>
</svg>
